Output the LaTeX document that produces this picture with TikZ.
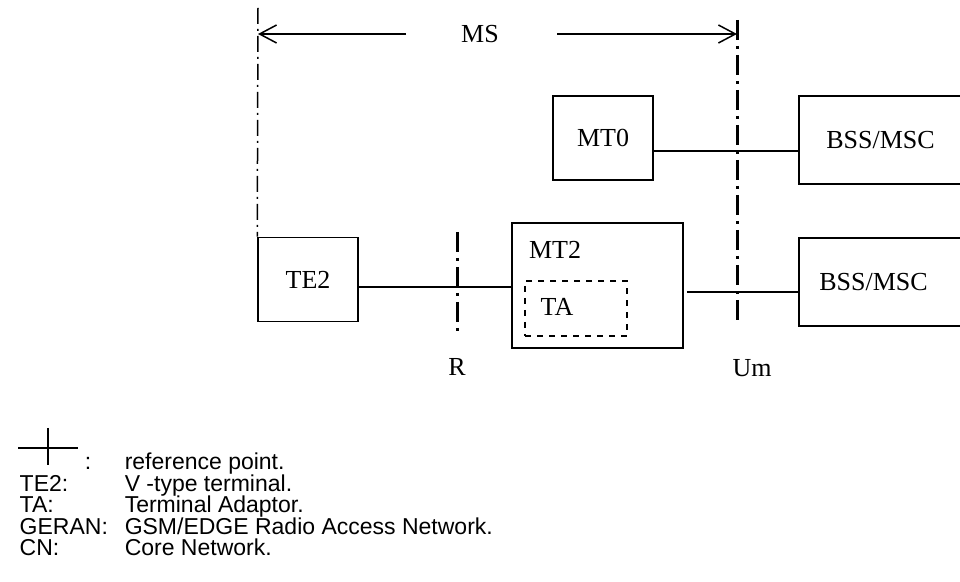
\documentclass[tikz,border=0pt]{standalone}
\usepackage{fontspec}
\setmainfont{Liberation Serif}
\newfontfamily\legendfont{Liberation Sans}
\usetikzlibrary{arrows.meta, positioning}

\begin{document}
\begin{tikzpicture}[x=0.5pt, y=-0.5pt, line width=0.75pt]

    % Define styles
    \tikzstyle{unit} = [draw, line width=0.75pt, inner sep=0pt, font=\fontsize{13}{15}\selectfont]
    \tikzstyle{adaptor} = [draw, dashed, line width=0.9pt, inner sep=0pt]
    \tikzstyle{refline} = [line width=1.5pt, dash pattern=on 10pt off 3pt on 1.5pt off 3pt]
    \tikzstyle{msline} = [line width=0.75pt, dash pattern=on 8pt off 2.5pt on 1pt off 2.5pt]
    \tikzstyle{tag} = [font=\fontsize{13}{15}\selectfont]
    \tikzstyle{legend} = [anchor=base west, inner sep=0pt, font=\legendfont\fontsize{11.5}{13}\selectfont]

    % Page frame
    \clip (0,0) rectangle (960,582);

    % Define key points
    \coordinate (mstop) at (258, 8);
    \coordinate (msl) at (258, 34);
    \coordinate (msr) at (737, 34);
    \coordinate (msla) at (406, 34);
    \coordinate (msra) at (557, 34);
    \coordinate (rtop) at (457, 232);
    \coordinate (rbot) at (457, 335);
    \coordinate (rpt) at (457, 287);
    \coordinate (umtop) at (737, 20);
    \coordinate (umbot) at (737, 325);
    \coordinate (umhigh) at (737, 151);
    \coordinate (umlow) at (737, 292);

    % Draw units
    \node[unit, minimum width=50pt, minimum height=42pt] (te2) at (308, 279.5) {TE2};
    \node[unit, minimum width=85.5pt, minimum height=62.5pt] (mt2) at (597.5, 285.5) {};
    \node[adaptor, minimum width=51pt, minimum height=27.5pt] (ta) at (576, 308.5) {};
    \node[unit, minimum width=50pt, minimum height=42pt] (mt0) at (603, 138) {MT0};
    \node[unit, minimum width=81.5pt, minimum height=44pt] (bss1) at (880.5, 140) {BSS/MSC};
    \node[unit, minimum width=81.5pt, minimum height=44pt] (bss2) at (880.5, 282) {\hspace{-7pt}BSS/MSC};

    % Labels inside MT2
    \node[tag] (mt2lbl) at (555, 250) {MT2};
    \node[tag] (talbl) at (557, 307) {TA};

    % MS span
    \node[tag] (ms) at (480, 34) {MS};
    \draw[-{Straight Barb[length=8.5pt, width=9pt]}] (msla) -- (msl);
    \draw[-{Straight Barb[length=8.5pt, width=9pt]}] (msra) -- (msr);

    % Reference lines
    \draw[msline] (mstop) -- (te2.north west);
    \draw[refline] (rtop) -- (rbot);
    \draw[refline] (umtop) -- (umbot);

    % Links
    \draw (te2.east |- rpt) -- (mt2.west |- rpt);
    \draw ([xshift=1.5pt]mt2.east |- umlow) -- (bss2.west |- umlow);
    \draw (mt0.east |- umhigh) -- (bss1.west |- umhigh);

    % Reference point names
    \node[tag] (rlbl) at (457, 367) {R};
    \node[tag] (umlbl) at (752, 368) {Um};

    % Legend
    \coordinate (crossl) at (18, 448);
    \coordinate (crossr) at (78, 448);
    \coordinate (crosst) at (48, 428);
    \coordinate (crossb) at (48, 465);
    \draw (crossl) -- (crossr);
    \draw (crosst) -- (crossb);
    \node[legend] (colon) at (84, 470) {:};
    \node[legend] (refpt) at (124, 470) {reference point.};
    \foreach \name/\what [count=\i] in {{TE2:}/{V -type terminal.}, {TA:}/{Terminal Adaptor.}, {GERAN:}/{GSM/EDGE Radio Access Network.}, {CN:}/{Core Network.}} {
        \node[legend] (key\i) at (19, 470 + 21.5*\i) {\name};
        \node[legend] (txt\i) at (124, 470 + 21.5*\i) {\what};
    }

\end{tikzpicture}
\end{document}
